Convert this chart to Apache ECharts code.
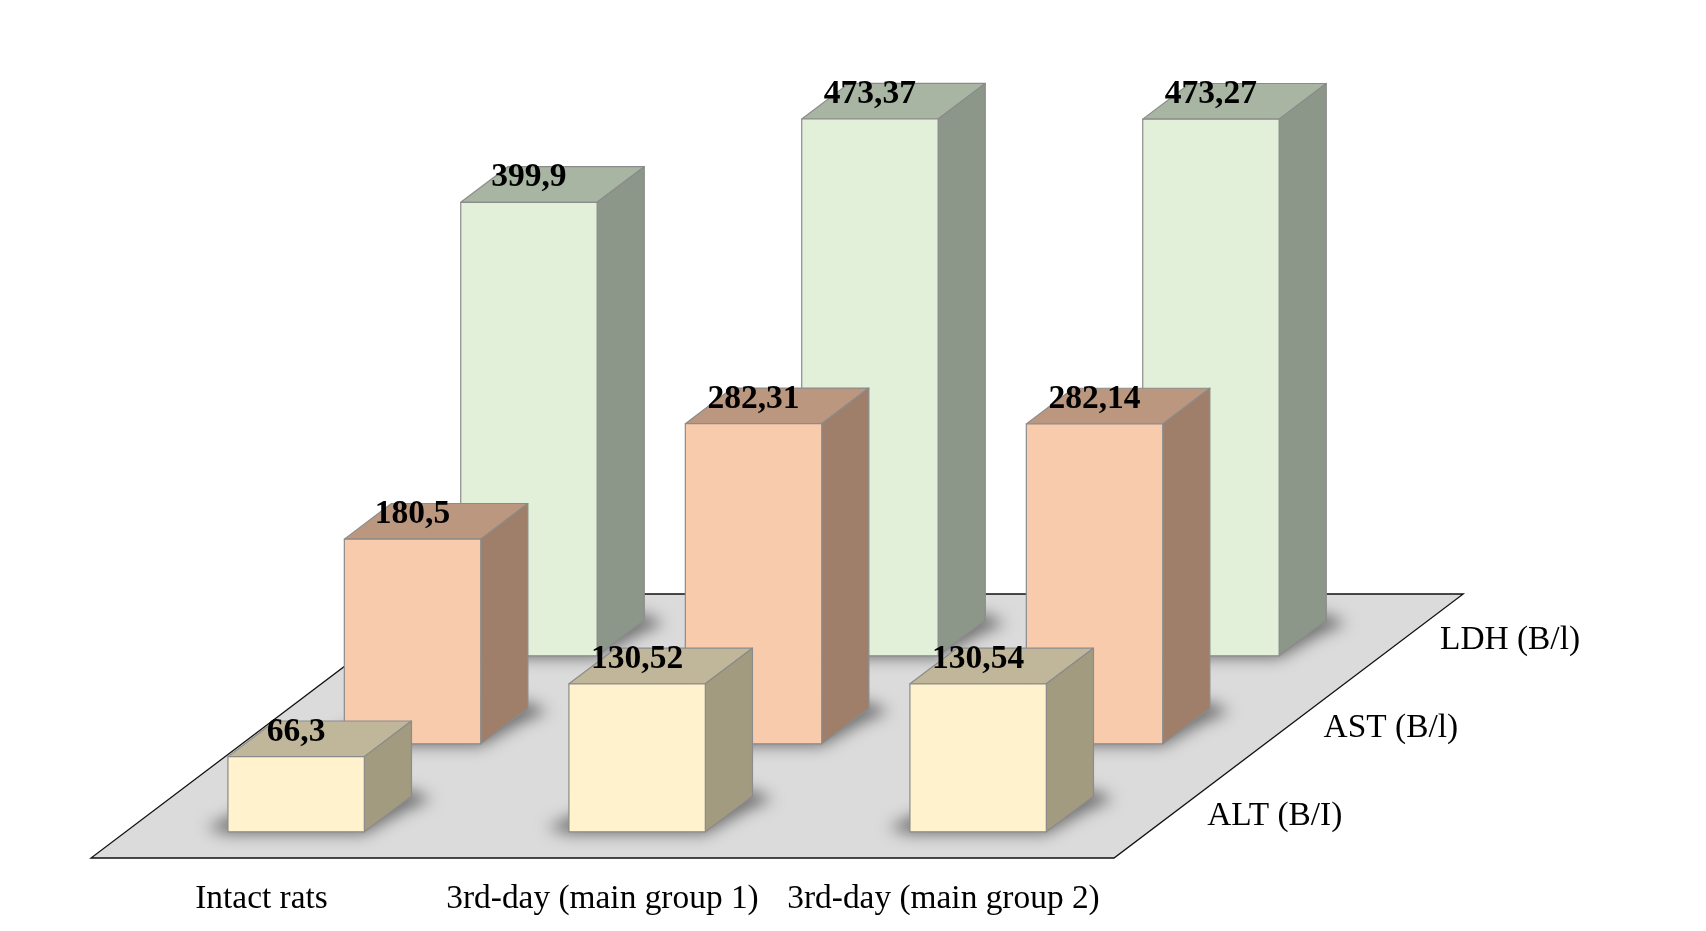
<!DOCTYPE html>
<html>
<head>
<meta charset="utf-8">
<title>Liver enzymes</title>
<script src="https://cdn.jsdelivr.net/npm/echarts@6/dist/echarts.min.js"></script>
<style>
  html, body { margin: 0; padding: 0; background: #fff; }
  #chart { width: 1706px; height: 931px; }
</style>
</head>
<body>
<div id="chart"></div>
<script>
const categories = ['Intact rats', '3rd-day (main group 1)', '3rd-day (main group 2)']
const depthLabels = ['ALT (B/I)', 'AST (B/l)', 'LDH (B/l)']
const altValues = [66.3, 130.52, 130.54]
const astValues = [180.5, 282.31, 282.14]
const ldhValues = [399.9, 473.37, 473.27]

const fontFamily = '"Liberation Serif", "Times New Roman", serif'

// fake 3d: one depth slot moves this far right and up on screen
const SLOT_DX = 116.4
const SLOT_DY = 88
const BAR_WIDTH = 0.4   // part of a category band
const BAR_DEPTH = 0.405 // part of a depth slot

const toLabel = (v) => String(v).replace('.', ',')

// corners of a bar, all taken from the axes
function barCorners(api, depth) {
  const c = api.value(0)
  const top = api.coord([c, api.value(1)])
  const base = api.coord([c, 0])
  const w = api.size([1, 0])[0] * BAR_WIDTH
  const dx = SLOT_DX * BAR_DEPTH
  const dy = SLOT_DY * BAR_DEPTH
  const left = base[0] + SLOT_DX * (depth + 0.5) - dx / 2 - w / 2
  const shift = SLOT_DY * (depth + 0.5) - dy / 2
  return { left, right: left + w, bottom: base[1] - shift, top: top[1] - shift, dx, dy }
}

function boxSeries(name, values, depth, colors) {
  return {
    name,
    type: 'custom',
    coordinateSystem: 'cartesian2d',
    clip: false,
    silent: true,
    z: 10 + (3 - depth),
    data: values.map((v, i) => [i, v]),
    renderItem: (params, api) => {
      const b = barCorners(api, depth)
      const edge = { stroke: '#8b8b8b', lineWidth: 1.2, lineJoin: 'round' }
      return {
        type: 'group',
        children: [
          {
            type: 'polygon',
            shape: { points: [[b.left, b.top], [b.right, b.top], [b.right + b.dx, b.top - b.dy], [b.left + b.dx, b.top - b.dy]] },
            style: { fill: colors.top, ...edge },
          },
          {
            type: 'polygon',
            shape: { points: [[b.right, b.top], [b.right + b.dx, b.top - b.dy], [b.right + b.dx, b.bottom - b.dy], [b.right, b.bottom]] },
            style: { fill: colors.side, ...edge },
          },
          {
            type: 'rect',
            shape: { x: b.left, y: b.top, width: b.right - b.left, height: b.bottom - b.top },
            style: { fill: colors.front, ...edge },
          },
          {
            type: 'text',
            style: {
              x: (b.left + b.right) / 2,
              y: b.top - 24.5,
              text: toLabel(api.value(1)),
              fill: '#000',
              font: 'bold 33.5px ' + fontFamily,
              align: 'center',
              verticalAlign: 'middle',
            },
          },
        ],
      }
    },
  }
}

// soft shadow on the floor, polygon itself is pushed off the canvas so only the blur shows
function shadowSeries(values, depth) {
  const away = 3000
  return {
    type: 'custom',
    coordinateSystem: 'cartesian2d',
    clip: false,
    silent: true,
    z: 5,
    data: values.map((v, i) => [i, v]),
    renderItem: (params, api) => {
      const b = barCorners(api, depth)
      return {
        type: 'polygon',
        shape: {
          points: [
            [b.left - 22, b.bottom - 4],
            [b.left, b.bottom + 2],
            [b.right, b.bottom + 2],
            [b.right + b.dx - 6, b.bottom - b.dy + 14],
            [b.right + b.dx + 20, b.bottom - b.dy + 3],
            [b.right + b.dx, b.bottom - b.dy - 6],
            [b.left + b.dx, b.bottom - b.dy],
          ].map((p) => [p[0] - away, p[1]]),
        },
        style: {
          fill: '#000',
          shadowColor: 'rgba(105,105,105,0.95)',
          shadowBlur: 15,
          shadowOffsetX: away,
        },
      }
    },
  }
}

const floorSeries = {
  type: 'custom',
  coordinateSystem: 'cartesian2d',
  clip: false,
  silent: true,
  z: 1,
  data: [[0, 0]],
  renderItem: (params) => {
    const g = params.coordSys
    const bottom = g.y + g.height
    const backX = SLOT_DX * 3
    const backY = SLOT_DY * 3
    return {
      type: 'polygon',
      shape: {
        points: [
          [g.x, bottom],
          [g.x + g.width, bottom],
          [g.x + g.width + backX, bottom - backY],
          [g.x + backX, bottom - backY],
        ],
      },
      style: { fill: '#dbdbdb', stroke: '#111', lineWidth: 1.3 },
    }
  },
}

const depthLabelSeries = {
  type: 'custom',
  coordinateSystem: 'cartesian2d',
  clip: false,
  silent: true,
  z: 20,
  data: depthLabels.map((d, i) => [i, 0, d]),
  dimensions: ['slot', 'y', 'label'],
  renderItem: (params, api) => {
    const g = params.coordSys
    const slot = api.value(0)
    return {
      type: 'text',
      style: {
        x: g.x + g.width + SLOT_DX * (slot + 0.5) + 35,
        y: g.y + g.height - SLOT_DY * (slot + 0.5) + 2.5,
        text: depthLabels[slot],
        fill: '#000',
        font: '33.4px ' + fontFamily,
        align: 'left',
        verticalAlign: 'middle',
      },
    }
  },
}

const chart = echarts.init(document.getElementById('chart'))
chart.setOption({
  animation: false,
  backgroundColor: '#fff',
  grid: { left: 91, top: 291, width: 1023, height: 567 },
  xAxis: {
    type: 'category',
    data: categories,
    axisLine: { show: false },
    axisTick: { show: false },
    axisLabel: { color: '#000', fontFamily, fontSize: 33.4, margin: 24.5, interval: 0 },
  },
  yAxis: { type: 'value', min: 0, max: 500, show: false, splitLine: { show: false } },
  series: [
    floorSeries,
    shadowSeries(ldhValues, 2),
    shadowSeries(astValues, 1),
    shadowSeries(altValues, 0),
    boxSeries('LDH (B/l)', ldhValues, 2, { front: '#e2f0d9', top: '#a9b5a3', side: '#8c9689' }),
    boxSeries('AST (B/l)', astValues, 1, { front: '#f8cbad', top: '#bb977f', side: '#a07f6a' }),
    boxSeries('ALT (B/I)', altValues, 0, { front: '#fff2cc', top: '#c0b699', side: '#a29b80' }),
    depthLabelSeries,
  ],
})
</script>
</body>
</html>
